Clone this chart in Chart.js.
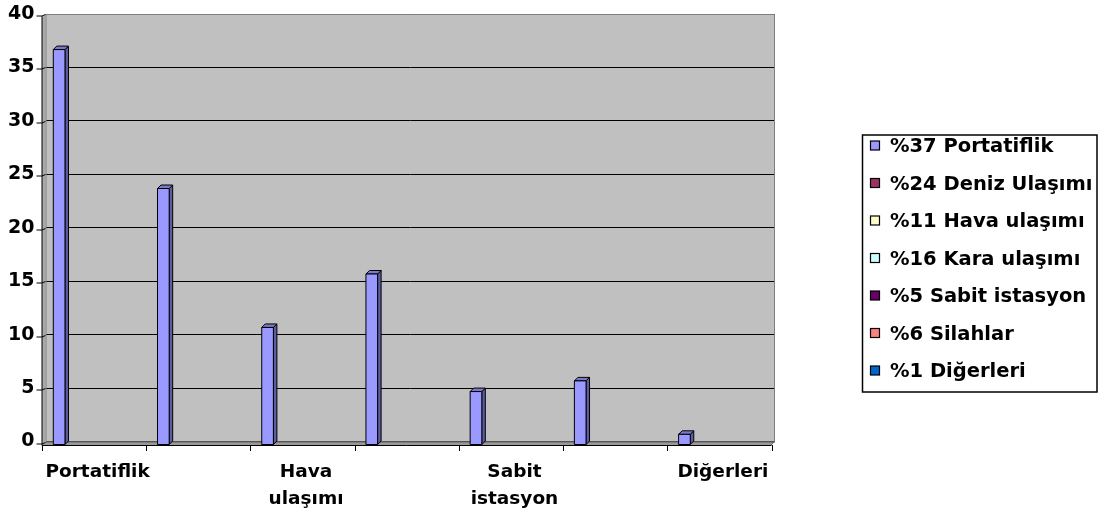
<!DOCTYPE html>
<html>
<head>
<meta charset="utf-8">
<script src="https://cdn.jsdelivr.net/npm/chart.js@4/dist/chart.umd.min.js"></script>
<style>
  html, body { margin: 0; padding: 0; background: #ffffff; }
  #wrap { position: relative; width: 1104px; height: 518px; }
</style>
</head>
<body>
<div id="wrap"><canvas id="chart"></canvas></div>
<script>
// Categories on the horizontal axis
const categories = ['Portatiflik', 'Deniz Ulaşımı', 'Hava ulaşımı', 'Kara ulaşımı', 'Sabit istasyon', 'Silahlar', 'Diğerleri'];
// Share of each category (%)
const values = [37, 24, 11, 16, 5, 6, 1];
// Series names shown in the legend
const seriesNames = ['%37 Portatiflik', '%24 Deniz Ulaşımı', '%11 Hava ulaşımı', '%16 Kara ulaşımı', '%5 Sabit istasyon', '%6 Silahlar', '%1 Diğerleri'];
const seriesColors = ['#9999FF', '#993366', '#FFFFCC', '#CCFFFF', '#660066', '#FF8080', '#0066CC'];
// Value axis ticks
const yTicks = [0, 5, 10, 15, 20, 25, 30, 35, 40];

const FONT = '"DejaVu Sans", sans-serif';
const DEPTH = 3.5;          // 3-D depth offset of floor, side wall and columns
const FACE = '#9999FF', SIDE = '#5C5CA3', TOP = '#7A7AC8';

// First series carries the values; the remaining series are empty but keep their slots in each group
const datasets = seriesNames.map((name, i) => ({
  label: name,
  data: i === 0 ? values.slice() : categories.map(() => null),
  backgroundColor: seriesColors[i],
  borderColor: '#000',
  borderWidth: 1
}));

const frame3d = {
  id: 'frame3d',
  beforeDraw(chart) {
    const { ctx, chartArea: a } = chart;
    const d = DEPTH;
    ctx.save();
    // back wall
    ctx.fillStyle = '#C0C0C0';
    ctx.fillRect(a.left, a.top, a.right - a.left, a.bottom - a.top);
    // left side wall
    ctx.fillStyle = '#A8A8A8';
    ctx.beginPath();
    ctx.moveTo(a.left - d, a.top + d);
    ctx.lineTo(a.left, a.top);
    ctx.lineTo(a.left, a.bottom);
    ctx.lineTo(a.left - d, a.bottom + d);
    ctx.closePath();
    ctx.fill();
    ctx.restore();
  },
  beforeDatasetsDraw(chart) {
    const { ctx, chartArea: a, scales } = chart;
    const d = DEPTH;
    const y = scales.y, x = scales.x;
    ctx.save();
    ctx.lineWidth = 1;
    // wall border
    ctx.strokeStyle = '#808080';
    ctx.beginPath();
    ctx.moveTo(a.left + 0.5, a.bottom);
    ctx.lineTo(a.left + 0.5, a.top + 0.5);
    ctx.lineTo(a.right - 0.5, a.top + 0.5);
    ctx.lineTo(a.right - 0.5, a.bottom);
    ctx.stroke();
    // floor
    ctx.fillStyle = '#999999';
    ctx.beginPath();
    ctx.moveTo(a.left, a.bottom);
    ctx.lineTo(a.right, a.bottom);
    ctx.lineTo(a.right - d, a.bottom + d);
    ctx.lineTo(a.left - d, a.bottom + d);
    ctx.closePath();
    ctx.fill();
    ctx.strokeStyle = '#606060';
    ctx.beginPath();
    ctx.moveTo(a.left, a.bottom + 0.5);
    ctx.lineTo(a.right, a.bottom + 0.5);
    ctx.moveTo(a.right - 0.5, a.bottom);
    ctx.lineTo(a.right - d - 0.5, a.bottom + d);
    ctx.stroke();
    // value ticks on the front edge, joined to the wall gridlines
    ctx.strokeStyle = '#000';
    ctx.beginPath();
    yTicks.forEach(v => {
      const py = Math.round(y.getPixelForValue(v)) + 0.5;
      ctx.moveTo(a.left - d - 5.5, py + 1.5);
      ctx.lineTo(a.left - d, py + 1.5);
      ctx.lineTo(a.left, py);
    });
    ctx.stroke();
    // front axis lines
    ctx.beginPath();
    ctx.moveTo(a.left - d, a.top + 2);
    ctx.lineTo(a.left - d, a.bottom + d + 0.5);
    ctx.lineTo(a.right - d, a.bottom + d + 0.5);
    ctx.stroke();
    // category separators on the horizontal axis
    const step = (a.right - a.left) / categories.length;
    ctx.beginPath();
    for (let i = 0; i <= categories.length; i++) {
      const px = Math.round(x.getPixelForValue(Math.min(i, categories.length - 1)) + (i === categories.length ? step / 2 : -step / 2) - d) + 0.5;
      ctx.moveTo(px, a.bottom + d);
      ctx.lineTo(px, a.bottom + d + 6);
    }
    ctx.stroke();
    ctx.restore();
  },
  beforeDatasetDraw() {
    return false; // columns are drawn as boxes below
  },
  afterDatasetsDraw(chart) {
    const { ctx } = chart;
    const d = DEPTH;
    ctx.save();
    ctx.lineWidth = 1;
    ctx.strokeStyle = '#000';
    ctx.lineJoin = 'miter';
    chart.data.datasets.forEach((ds, di) => {
      const meta = chart.getDatasetMeta(di);
      meta.data.forEach((el, i) => {
        if (ds.data[i] == null) return;
        const p = el.getProps(['x', 'y', 'base', 'width'], true);
        const l = p.x - p.width / 2, r = p.x + p.width / 2;
        const t = p.y, b = p.base;
        // side face
        ctx.fillStyle = SIDE;
        ctx.beginPath();
        ctx.moveTo(r - d, t + d); ctx.lineTo(r, t); ctx.lineTo(r, b); ctx.lineTo(r - d, b + d);
        ctx.closePath(); ctx.fill(); ctx.stroke();
        // top face
        ctx.fillStyle = TOP;
        ctx.beginPath();
        ctx.moveTo(l - d, t + d); ctx.lineTo(l, t); ctx.lineTo(r, t); ctx.lineTo(r - d, t + d);
        ctx.closePath(); ctx.fill(); ctx.stroke();
        // front face
        ctx.fillStyle = FACE;
        ctx.beginPath();
        ctx.rect(l - d, t + d, r - l, b - t);
        ctx.fill(); ctx.stroke();
      });
    });
    ctx.restore();
  },
  afterDraw(chart) {
    // legend box
    const { ctx } = chart;
    ctx.save();
    ctx.lineWidth = 1.5;
    ctx.strokeStyle = '#000';
    ctx.strokeRect(862.5, 135, 234.5, 257);
    const rowY = [146, 183.5, 221, 258.5, 296, 333.5, 371];
    ctx.font = 'bold 19.5px ' + FONT;
    ctx.textBaseline = 'middle';
    ctx.textAlign = 'left';
    seriesNames.forEach((name, i) => {
      const cy = rowY[i];
      ctx.fillStyle = seriesColors[i];
      ctx.fillRect(870.5, cy - 5, 9, 9);
      ctx.lineWidth = 1.2;
      ctx.strokeRect(870.5, cy - 5, 9, 9);
      ctx.fillStyle = '#000';
      ctx.fillText(name, 890, cy + 1);
    });
    ctx.restore();
  }
};

new Chart(document.getElementById('chart'), {
  type: 'bar',
  data: { labels: categories, datasets },
  plugins: [frame3d],
  options: {
    responsive: true,
    maintainAspectRatio: false,
    animation: false,
    events: [],
    categoryPercentage: 0.783,
    barPercentage: 1,
    layout: { padding: { top: 14, right: 329, bottom: 0, left: 0 } },
    plugins: { legend: { display: false }, tooltip: { enabled: false } },
    scales: {
      x: {
        grid: { display: false },
        border: { display: false },
        afterFit(scale) { scale.height = 76.5; scale.paddingLeft = 0; scale.paddingRight = 0; },
        ticks: {
          autoSkip: false,
          maxRotation: 0,
          minRotation: 0,
          padding: 9,
          color: '#000',
          font: { family: FONT, size: 18.5, weight: 'bold', lineHeight: 1.45 },
          callback: (v, i) => (i % 2 ? '' : categories[i].split(' '))
        }
      },
      y: {
        min: 0,
        max: 40,
        afterFit(scale) { scale.width = 45.5; scale.paddingTop = 0; scale.paddingBottom = 0; },
        afterBuildTicks(scale) { scale.ticks = yTicks.map(v => ({ value: v })); },
        grid: { color: '#000', lineWidth: 1, drawTicks: false },
        border: { display: false },
        ticks: {
          padding: 11,
          color: '#000',
          font: { family: FONT, size: 19, weight: 'bold' }
        }
      }
    }
  }
});
</script>
</body>
</html>
